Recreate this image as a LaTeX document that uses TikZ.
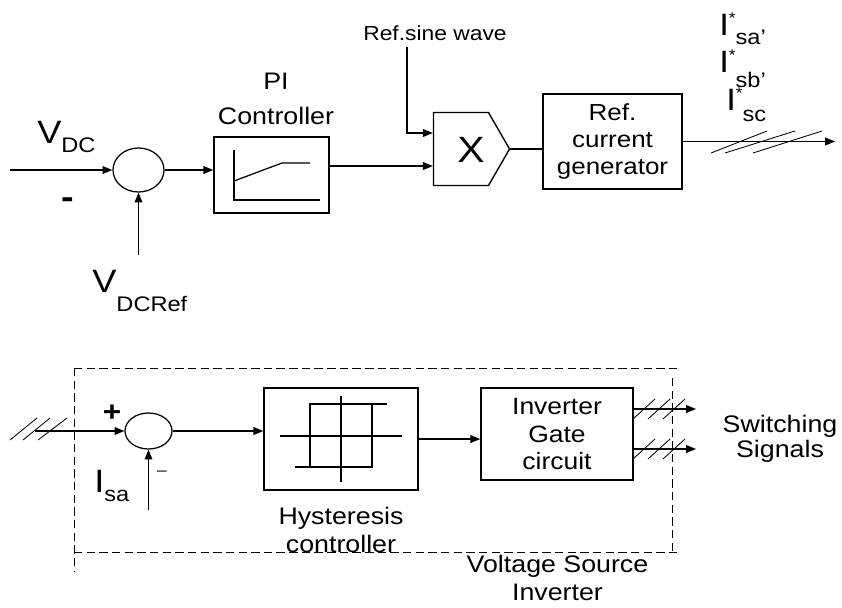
\documentclass[tikz,border=0pt]{standalone}
\usepackage{fontspec}
\setmainfont{Liberation Sans}[FakeStretch=1.12]
\usepackage{tikz}
\usetikzlibrary{arrows.meta,positioning,shapes.geometric,shapes.symbols}
\newcommand{\refcur}[2]{\fontsize{22}{22}\selectfont I\raisebox{7.9pt}{\fontsize{11}{11}\selectfont *}\raisebox{-#1}{\fontsize{15}{15}\selectfont #2}}

\begin{document}
\begin{tikzpicture}[x=0.025cm, y=-0.025cm,
    block/.style={rectangle, draw, line width=1pt, inner sep=0pt, align=center, font=\fontsize{16.5}{19.3}\selectfont},
    summer/.style={ellipse, draw, line width=0.9pt, inner sep=0pt},
    arrow/.style={-{Triangle[length=7pt,width=5.5pt]}, line width=0.9pt},
    wire/.style={line width=0.9pt},
    bus/.style={line width=0.6pt},
    frame/.style={line width=0.6pt, dash pattern=on 6pt off 3pt},
    label/.style={font=\fontsize{17}{19.3}\selectfont, align=center}
  ]
  \useasboundingbox (0,0) rectangle (842,607);

  \node[summer, minimum width=1.275cm, minimum height=1.1cm] (sumdc) at (138.5,170) {};
  \node[block, minimum width=2.875cm, minimum height=1.9cm] (pi) at (271.5,175) {};
  \node[signal, signal to=east, signal pointer angle=120, draw, line width=1pt, minimum width=1.9cm, minimum height=1.825cm, inner sep=0pt] (mult) at (461,149) {};
  \node[font=\fontsize{26}{26}\selectfont, inner sep=0pt] (multx) at (471,150) {X};
  \node[block, minimum width=3.475cm, minimum height=2.375cm] (refgen) at (612.5,141.5) {Ref.\\current\\generator};

  \draw[wire] (234,150) -- (234,200) -- (320,200);
  \draw[wire] (234,181) -- (282,163) -- (310,163);

  \node[label] (pilbl) at (276,99) {PI\\[6pt]Controller};
  \node[label, font=\fontsize{14.5}{16}\selectfont, anchor=base] (sine) at (435,40) {Ref.sine wave};
  \node[anchor=base west, inner sep=0pt] (vdc) at (37,143) {\fontsize{23}{23}\selectfont V\raisebox{-7pt}{\fontsize{15}{15}\selectfont DC}};
  \node (minus) at (67.5,203) {\fontsize{24}{24}\selectfont\bfseries -};
  \node[anchor=base west, inner sep=0pt] (vref) at (92,292) {\fontsize{23}{23}\selectfont V\raisebox{-14pt}{\fontsize{15}{15}\selectfont DCRef}};
  \node[anchor=base west, inner sep=0pt] (isa1) at (719,35) {\refcur{6.4pt}{sa’}};
  \node[anchor=base west, inner sep=0pt] (isb1) at (719,72) {\refcur{10.7pt}{sb’}};
  \node[anchor=base west, inner sep=0pt] (isc1) at (726,110) {\refcur{8pt}{sc}};

  \coordinate (vdcin) at (10,170);
  \coordinate (vrefin) at (138.5,255);
  \coordinate (sinetop) at (407,47);
  \coordinate (mulin) at ([yshift=-0.425cm]mult.west);
  \coordinate (iout) at (835,141.5);

  \draw[arrow] (vdcin) -- (sumdc.west);
  \draw[arrow] (vrefin) -- (sumdc.south);
  \draw[arrow] (sumdc.east) -- (sumdc.east -| pi.west);
  \draw[arrow] (pi.east |- mulin) -- (mulin);
  \draw[arrow] (sinetop) |- ([yshift=0.4cm]mult.west);
  \draw[wire] (mult.east) -- (mult.east -| refgen.west);
  \draw[arrow] (refgen.east) -- (iout);
  \foreach \a/\b in {711/767,725/795,753/822}
    \draw[bus] (\a,153) -- (\b,131);

  \draw[frame] (74,368) -- (680,368);
  \draw[frame] (74,368) -- (74,572);
  \draw[frame] (672,378) -- (672,552);
  \draw[frame] (74,552) -- (680,552);

  \node[summer, minimum width=1.175cm, minimum height=0.9cm] (sumsa) at (148.5,431) {};
  \node[block, minimum width=3.85cm, minimum height=2.55cm] (hyst) at (341,439) {};
  \node[block, minimum width=3.8cm, minimum height=2.3cm, font=\fontsize{16.8}{19.5}\selectfont] (gate) at (557,434) {Inverter\\Gate\\circuit};

  \draw[wire] (341,396) -- (341,482);
  \draw[wire] (280,436) -- (402,436);
  \draw[wire] (387,404) -- (310,404) -- (310,467);
  \draw[wire] (295,467) -- (372,467) -- (372,404);

  \node[label] (hystlbl) at (341,530) {Hysteresis\\controller};
  \node[label] (vsilbl) at (557.5,578) {Voltage Source\\Inverter};
  \node[label, font=\fontsize{17}{17.8}\selectfont] (swlbl) at (780,438.5) {Switching\\Signals};
  \node (plus) at (112,413) {\fontsize{20}{20}\selectfont\bfseries +};
  \node (minussa) at (162,473) {\fontsize{11}{11}\selectfont\textendash};
  \node[anchor=base west, inner sep=0pt] (isa) at (94,492) {\fontsize{23}{23}\selectfont I\raisebox{-7pt}{\fontsize{15}{15}\selectfont sa}};

  \coordinate (isin) at (35,431);
  \coordinate (isafb) at (148.5,510);
  \coordinate (sw1) at (696,409);
  \coordinate (sw2) at (696,449);

  \draw[arrow] (isin) -- (sumsa.west);
  \draw[arrow] (isafb) -- (sumsa.south);
  \draw[arrow] (sumsa.east) -- (sumsa.east -| hyst.west);
  \draw[arrow] (hyst.east) -- (hyst.east -| gate.west);
  \draw[arrow] (gate.east |- sw1) -- (sw1);
  \draw[arrow] (gate.east |- sw2) -- (sw2);
  \foreach \a/\b in {10/37,23/50,38/67}
    \draw[bus] (\a,440) -- (\b,418);
  \foreach \y in {409,449}
    \foreach \a in {633,648,663}
      \draw[bus] (\a,\y+10) -- (\a+22,\y-10);
\end{tikzpicture}
\end{document}
